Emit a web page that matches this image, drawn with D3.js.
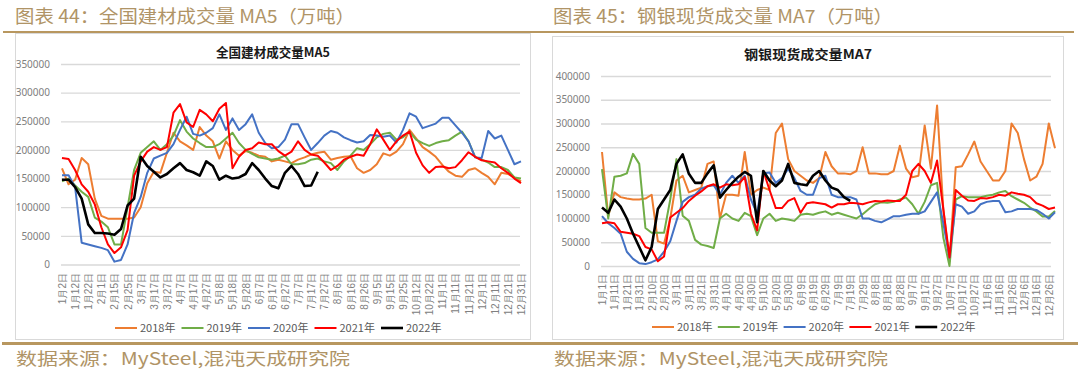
<!DOCTYPE html>
<html>
<head>
<meta charset="utf-8">
<script src="https://cdn.jsdelivr.net/npm/d3@7"></script>
<style>
  body { margin: 0; background: #fff; }
  svg { display: block; }
</style>
</head>
<body>
<div id="chart"></div>
<script>
// ---- data ----
var years = ["2018年", "2019年", "2020年", "2021年", "2022年"];
var colors = ["#ED7D31", "#70AD47", "#4472C4", "#FF0000", "#000000"];
var yTicksLeft = [0, 50000, 100000, 150000, 200000, 250000, 300000, 350000];
var yTicksRight = [0, 50000, 100000, 150000, 200000, 250000, 300000, 350000, 400000];

// 全国建材: category labels, one every 10 trading days (351 categories)
var leftLabels = ["1月2日", "1月12日", "1月22日", "2月1日", "2月15日", "2月25日", "3月7日", "3月17日", "3月27日",
  "4月7日", "4月17日", "4月27日", "5月8日", "5月18日", "5月28日", "6月7日", "6月17日", "6月27日",
  "7月7日", "7月17日", "7月27日", "8月6日", "8月16日", "8月26日", "9月5日", "9月15日", "9月25日",
  "10月12日", "10月22日", "11月1日", "11月11日", "11月21日", "12月1日", "12月11日", "12月21日", "12月31日"];
// 钢银现货: calendar days, one label every 10 days (366 categories)
var rightLabels = ["1月1日", "1月11日", "1月21日", "1月31日", "2月10日", "2月20日", "3月1日", "3月11日", "3月21日",
  "3月31日", "4月10日", "4月20日", "4月30日", "5月10日", "5月20日", "5月30日", "6月9日", "6月19日",
  "6月29日", "7月9日", "7月19日", "7月29日", "8月8日", "8月18日", "8月28日", "9月7日", "9月17日",
  "9月27日", "10月7日", "10月17日", "10月27日", "11月6日", "11月16日", "11月26日", "12月6日", "12月16日", "12月26日"];

// values read every 5th category
var sampleStep = 5;

var bm2018 = [168000, 140000, 148000, 186000, 175000, 115000, 85000, 80000, 80000, 80000,
  80000, 82000, 100000, 142000, 162000, 160000, 195000, 230000, 215000, 208000,
  200000, 240000, 225000, 215000, 185000, 215000, 200000, 190000, 198000, 195000,
  190000, 188000, 180000, 183000, 180000, 177000, 183000, 187000, 192000, 195000,
  197000, 183000, 186000, 188000, 189000, 168000, 160000, 165000, 175000, 194000,
  190000, 197000, 210000, 235000, 220000, 205000, 197000, 188000, 174000, 162000,
  155000, 153000, 165000, 168000, 160000, 153000, 140000, 160000, 158000, 152000, 145000];
var bm2019 = [145000, 150000, 138000, 127000, 118000, 82000, 75000, 65000, 35000, 35000,
  100000, 165000, 195000, 205000, 215000, 200000, 210000, 225000, 252000, 232000,
  220000, 212000, 205000, 205000, 210000, 220000, 230000, 212000, 200000, 193000,
  187000, 185000, 183000, 185000, 190000, 175000, 175000, 177000, 183000, 185000,
  180000, 177000, 165000, 180000, 190000, 203000, 200000, 210000, 222000, 228000,
  230000, 218000, 222000, 232000, 218000, 212000, 207000, 212000, 215000, 217000,
  225000, 232000, 215000, 188000, 183000, 178000, 170000, 170000, 165000, 152000, 150000];
var bm2020 = [156000, 156000, 135000, 38000, 35000, 32000, 29000, 25000, 5000, 8000,
  35000, 90000, 118000, 160000, 185000, 190000, 195000, 210000, 235000, 258000,
  228000, 225000, 230000, 238000, 262000, 235000, 255000, 235000, 245000, 262000,
  230000, 212000, 203000, 205000, 218000, 245000, 245000, 222000, 200000, 212000,
  225000, 233000, 230000, 222000, 217000, 213000, 215000, 226000, 225000, 223000,
  225000, 213000, 235000, 264000, 258000, 238000, 242000, 246000, 256000, 256000,
  243000, 230000, 215000, 187000, 186000, 233000, 220000, 225000, 200000, 175000, 180000];
var bm2021 = [186000, 184000, 165000, 140000, 127000, 105000, 65000, 35000, 20000, 30000,
  60000, 155000, 180000, 197000, 205000, 200000, 205000, 265000, 280000, 248000,
  240000, 270000, 262000, 250000, 272000, 282000, 168000, 188000, 200000, 203000,
  213000, 210000, 210000, 198000, 190000, 197000, 215000, 200000, 192000, 190000,
  178000, 165000, 172000, 183000, 188000, 192000, 190000, 210000, 236000, 218000,
  200000, 215000, 225000, 232000, 195000, 173000, 160000, 170000, 171000, 168000,
  170000, 182000, 196000, 188000, 182000, 180000, 178000, 168000, 160000, 150000, 142000];
var bm2022 = [148000, 148000, 135000, 115000, 70000, 55000, 55000, 54000, 52000, 62000,
  103000, 115000, 188000, 172000, 162000, 152000, 158000, 168000, 177000, 165000,
  161000, 155000, 180000, 172000, 148000, 155000, 150000, 152000, 158000, 177000,
  165000, 150000, 137000, 133000, 160000, 172000, 158000, 137000, 138000, 162000];

var gy2018 = [240000, 105000, 155000, 145000, 142000, 140000, 140000, 142000, 150000, 52000,
  47000, 100000, 180000, 190000, 155000, 160000, 165000, 215000, 220000, 100000,
  150000, 150000, 148000, 240000, 150000, 160000, 165000, 160000, 280000, 300000,
  225000, 200000, 190000, 180000, 175000, 185000, 240000, 210000, 195000, 195000,
  193000, 200000, 250000, 195000, 195000, 193000, 193000, 200000, 253000, 205000,
  187000, 190000, 296000, 205000, 338000, 120000, 10000, 208000, 210000, 235000,
  262000, 220000, 200000, 180000, 180000, 200000, 300000, 280000, 225000, 180000,
  188000, 215000, 300000, 248000];
var gy2019 = [204000, 100000, 188000, 190000, 195000, 236000, 215000, 80000, 70000, 70000,
  70000, 140000, 225000, 106000, 95000, 55000, 45000, 42000, 38000, 100000,
  110000, 100000, 95000, 112000, 105000, 65000, 100000, 110000, 95000, 100000,
  98000, 95000, 108000, 110000, 108000, 112000, 115000, 108000, 112000, 108000,
  104000, 100000, 109000, 120000, 130000, 134000, 133000, 135000, 140000, 144000,
  130000, 110000, 135000, 170000, 175000, 60000, 0, 140000, 147000, 145000,
  145000, 145000, 148000, 150000, 155000, 158000, 147000, 140000, 133000, 123000,
  115000, 104000, 104000, 116000];
var gy2020 = [105000, 90000, 80000, 68000, 30000, 15000, 6000, 4000, 8000, 14000,
  30000, 52000, 95000, 135000, 145000, 150000, 163000, 168000, 170000, 150000,
  175000, 190000, 175000, 190000, 140000, 110000, 195000, 197000, 175000, 185000,
  205000, 185000, 158000, 150000, 150000, 185000, 190000, 150000, 145000, 145000,
  145000, 140000, 100000, 100000, 95000, 92000, 98000, 105000, 105000, 108000,
  110000, 110000, 115000, 135000, 155000, 90000, 18000, 130000, 125000, 110000,
  115000, 130000, 135000, 137000, 137000, 113000, 115000, 120000, 120000, 120000,
  118000, 110000, 100000, 113000];
var gy2021 = [90000, 92000, 90000, 72000, 70000, 68000, 63000, 40000, 35000, 10000,
  20000, 102000, 112000, 122000, 137000, 148000, 157000, 168000, 172000, 165000,
  172000, 170000, 172000, 187000, 110000, 75000, 200000, 160000, 122000, 122000,
  137000, 143000, 112000, 132000, 134000, 132000, 130000, 123000, 130000, 130000,
  133000, 132000, 130000, 134000, 137000, 136000, 138000, 137000, 137000, 150000,
  200000, 215000, 200000, 175000, 222000, 120000, 18000, 160000, 148000, 138000,
  137000, 143000, 142000, 145000, 150000, 148000, 155000, 152000, 150000, 145000,
  132000, 127000, 120000, 123000];
var gy2022 = [123000, 112000, 140000, 125000, 100000, 68000, 40000, 12000, 40000, 120000,
  140000, 160000, 215000, 235000, 194000, 175000, 175000, 195000, 212000, 144000,
  160000, 175000, 188000, 198000, 190000, 92000, 200000, 180000, 168000, 180000,
  215000, 175000, 172000, 170000, 190000, 200000, 180000, 165000, 160000, 145000, 137000];

// ---- drawing ----
var svg = d3.select("#chart").append("svg")
    .attr("width", 1080)
    .attr("height", 372)
    .style("font-family", "'Noto Sans CJK SC', 'Noto Sans', sans-serif");

var gold = "#b09466";

// rules under the headers and above the sources
svg.append("line").attr("x1", 3).attr("x2", 1074).attr("y1", 32).attr("y2", 32)
    .attr("stroke", "#b8975f").attr("stroke-width", 2);
svg.append("line").attr("x1", 2).attr("x2", 1078).attr("y1", 343.5).attr("y2", 343.5)
    .attr("stroke", "#b8975f").attr("stroke-width", 3);

function drawPanel(o) {
    // header + source
    svg.append("text")
        .attr("x", o.headX).attr("y", 23)
        .attr("font-size", 18).attr("fill", gold)
        .attr("textLength", 340).attr("lengthAdjust", "spacingAndGlyphs")
        .text(o.head);
    svg.append("text")
        .attr("x", o.headX + 1).attr("y", 365)
        .attr("font-size", 17).attr("fill", gold)
        .attr("textLength", 334).attr("lengthAdjust", "spacingAndGlyphs")
        .text("数据来源：MySteel,混沌天成研究院");

    var g = svg.append("g");
    g.append("rect")
        .attr("x", o.box[0] + 0.5).attr("y", o.box[1] + 0.5)
        .attr("width", o.box[2]).attr("height", o.box[3])
        .attr("fill", "#fff").attr("stroke", "#d9d9d9");

    // chart title
    g.append("text")
        .attr("x", o.titleX).attr("y", o.titleY)
        .attr("text-anchor", "middle")
        .attr("font-size", 13).attr("font-weight", "bold").attr("fill", "#1a1a1a")
        .attr("textLength", o.titleW).attr("lengthAdjust", "spacingAndGlyphs")
        .text(o.title);

    var x = d3.scaleLinear().domain([0, o.nCat - 1]).range(o.xRange);
    var y = d3.scaleLinear().domain([0, o.yTicks[o.yTicks.length - 1]]).range(o.yRange);

    // Y axis with gridlines
    var ya = g.append("g")
        .attr("transform", "translate(" + o.gridX[0] + ",0)")
        .call(d3.axisLeft(y)
            .tickValues(o.yTicks)
            .tickSize(-(o.gridX[1] - o.gridX[0]))
            .tickPadding(11)
            .tickFormat(d3.format("d")));
    ya.select(".domain").remove();
    ya.selectAll(".tick line").attr("stroke", "#d9d9d9").attr("stroke-width", 1.3);
    ya.selectAll(".tick text").attr("font-size", 10).attr("fill", "#808080")
        .style("font-family", "'Noto Sans', sans-serif");

    // X axis (category labels every 10th category, vertical)
    var xa = g.append("g")
        .attr("transform", "translate(0," + o.yRange[0] + ")")
        .call(d3.axisBottom(x)
            .tickValues(o.labels.map(function(d, i) { return i * 10; }))
            .tickSize(0)
            .tickFormat(function(d, i) { return o.labels[i]; }));
    xa.select(".domain").remove();
    xa.selectAll(".tick text")
        .attr("transform", "rotate(-90)")
        .attr("text-anchor", "end")
        .attr("x", -o.xLabelGap).attr("y", 0).attr("dy", "0.35em")
        .attr("font-size", 10).attr("fill", "#808080");

    // series
    var line = d3.line()
        .x(function(d, i) { return x(i * sampleStep); })
        .y(function(d) { return y(d); });
    o.series.forEach(function(s, k) {
        g.append("path")
            .datum(s)
            .attr("d", line)
            .attr("fill", "none")
            .attr("stroke", colors[k])
            .attr("stroke-width", k == 4 ? 2.6 : 2)
            .attr("stroke-linejoin", "round");
    });

    // legend
    var lg = g.selectAll(".lg").data(years).enter().append("g")
        .attr("transform", function(d, i) {
            return "translate(" + (o.legX + i * o.legStep) + "," + o.legY + ")";
        });
    lg.append("line").attr("x1", 0).attr("x2", 22).attr("y1", 0).attr("y2", 0)
        .attr("stroke", function(d, i) { return colors[i]; })
        .attr("stroke-width", function(d, i) { return i == 4 ? 2.6 : 2; });
    lg.append("text").attr("x", 25).attr("y", 0).attr("dy", "0.35em")
        .attr("font-size", 11).attr("fill", "#595959")
        .text(function(d) { return d; });
}

drawPanel({
    head: "图表 44：全国建材成交量 MA5（万吨）",
    headX: 15,
    box: [15, 33, 515, 306],
    title: "全国建材成交量MA5", titleX: 273, titleY: 57, titleW: 114,
    nCat: 351, xRange: [62, 521], gridX: [61, 520],
    yTicks: yTicksLeft, yRange: [264.5, 64],
    labels: leftLabels, xLabelGap: 8.5,
    series: [bm2018, bm2019, bm2020, bm2021, bm2022],
    legX: 115, legStep: 66.5, legY: 328
});

drawPanel({
    head: "图表 45：钢银现货成交量 MA7（万吨）",
    headX: 553,
    box: [552, 36, 511, 303],
    title: "钢银现货成交量MA7", titleX: 808, titleY: 59, titleW: 128,
    nCat: 366, xRange: [602, 1055], gridX: [601, 1051],
    yTicks: yTicksRight, yRange: [266, 76],
    labels: rightLabels, xLabelGap: 8,
    series: [gy2018, gy2019, gy2020, gy2021, gy2022],
    legX: 652, legStep: 65.8, legY: 327
});
</script>
</body>
</html>
